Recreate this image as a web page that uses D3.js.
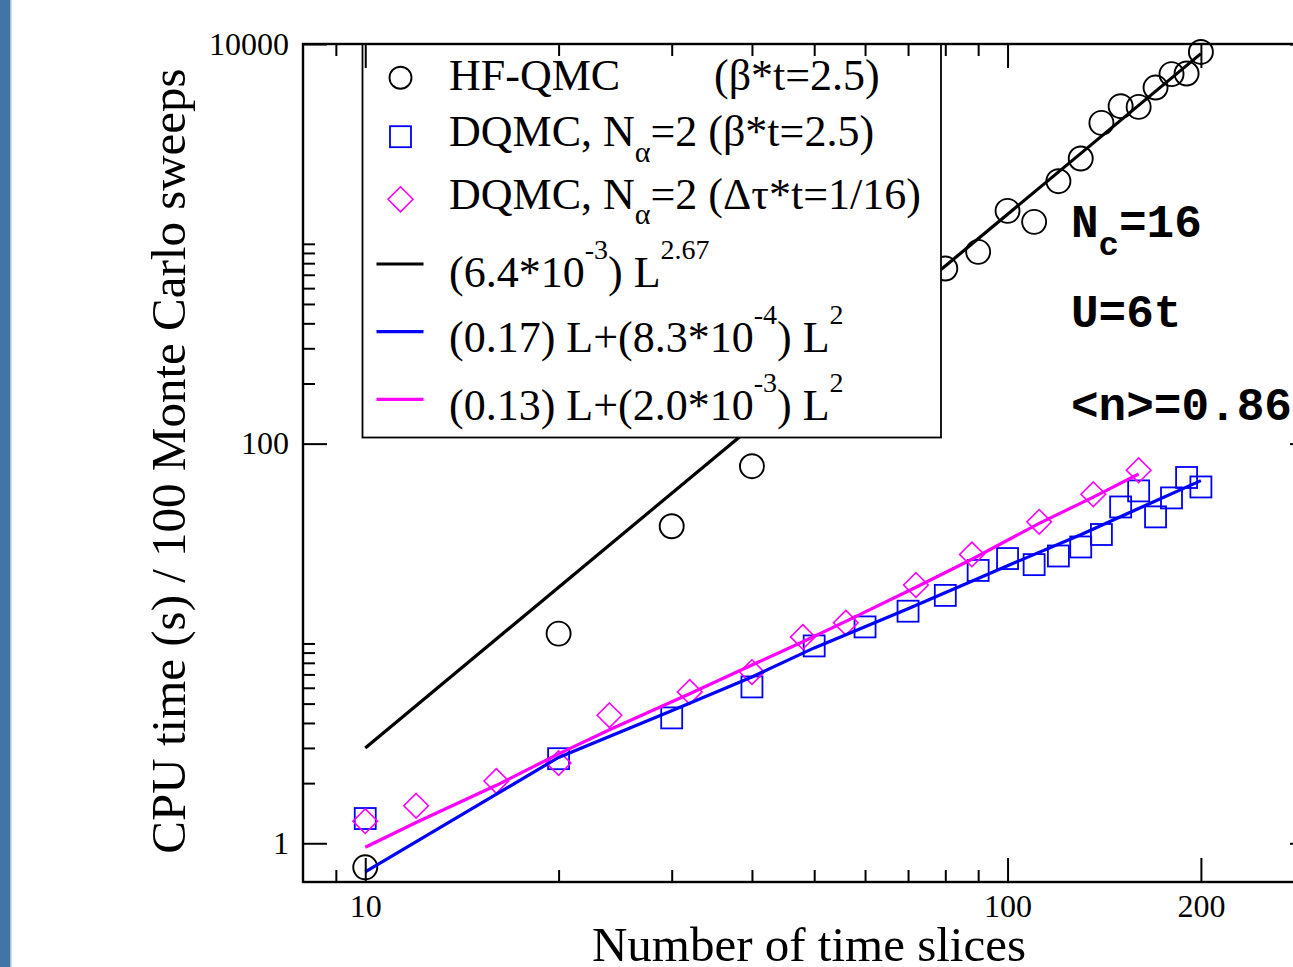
<!DOCTYPE html>
<html><head><meta charset="utf-8">
<script src="https://cdn.jsdelivr.net/npm/d3@7"></script>
<style>body{margin:0;background:#fff;overflow:hidden} svg{display:block} text{white-space:pre}</style>
</head><body>
<svg id="chart" width="1293" height="967"></svg>
<script>
// ---- data ----
const hfL = [10, 20, 30, 40, 80, 90, 100, 110, 120, 130, 140, 150, 160, 170, 180, 190, 200];
const hfTime = [0.758, 11.2, 38.6, 77.1, 752, 911, 1462, 1288, 2058, 2673, 4028, 4884, 4843, 6055, 7063, 7118, 9125];

const dqmcBetaL = [10, 20, 30, 40, 50, 60, 70, 80, 90, 100, 110, 120, 130, 140, 150, 160, 170, 180, 190, 200];
const dqmcBetaTime = [1.33, 2.65, 4.24, 6.06, 9.72, 12.1, 14.5, 17.4, 23.2, 26.6, 24.8, 27.4, 30.4, 35.1, 48.2, 58, 43, 53.5, 67.7, 60.7];

const dqmcTauL = [10, 12, 16, 20, 24, 32, 40, 48, 56, 72, 88, 112, 136, 160];
const dqmcTauTime = [1.29, 1.54, 2.05, 2.52, 4.37, 5.72, 7.19, 10.78, 12.7, 19.6, 27.9, 40.6, 55.8, 73.6];

const fitHfL = [10, 200];
const fitHfTime = [3.0, 8950];
const fitBetaL = [10, 20, 30, 40, 50, 70, 100, 130, 160, 200];
const fitBetaTime = [0.72, 2.69, 4.6, 6.8, 9.5, 14.9, 24.5, 35.0, 47.4, 65.3];
const fitTauL = [10, 12, 16, 20, 24, 32, 40, 48, 56, 72, 88, 112, 136, 160];
const fitTauTime = [0.955, 1.27, 1.95, 2.8, 3.7, 5.6, 7.8, 10.2, 12.9, 19.1, 26.4, 39.9, 54.0, 70.5];

const xMajorTicks = [10, 100, 200];
const xTickLabels = ["10", "100", "200"];
const xMinorTicks = [9, 20, 30, 40, 50, 60, 70, 80, 90];
const yMajorTicks = [1, 100, 10000];
const yTickLabels = ["1", "100", "10000"];
const yMinorTicks = [2, 3, 4, 5, 6, 7, 8, 9, 10, 200, 300, 400, 500, 600, 700, 800, 900, 1000];

const xTitle = "Number of time slices";
const yTitle = "CPU time (s) / 100 Monte Carlo sweeps";

const legendRows = [
  [{t: "HF-QMC"}, {t: "(β*t=2.5)", x: 714}],
  [{t: "DQMC, N"}, {t: "α", k: "sub"}, {t: "=2 (β*t=2.5)"}],
  [{t: "DQMC, N"}, {t: "α", k: "sub"}, {t: "=2 (Δτ*t=1/16)"}],
  [{t: "(6.4*10"}, {t: "-3", k: "sup"}, {t: ") L"}, {t: "2.67", k: "sup"}],
  [{t: "(0.17) L+(8.3*10"}, {t: "-4", k: "sup"}, {t: ") L"}, {t: "2", k: "sup"}],
  [{t: "(0.13) L+(2.0*10"}, {t: "-3", k: "sup"}, {t: ") L"}, {t: "2", k: "sup"}]
];
const notes = [
  [{t: "N"}, {t: "c", k: "sub"}, {t: "=16"}],
  [{t: "U=6t"}],
  [{t: "<n>=0.86"}]
];

// ---- drawing ----
const svg = d3.select("#chart");
const W = 1293, H = 967;
const L = 303, R = 1314, T = 44, B = 882;

svg.append("rect").attr("x", 0).attr("y", 0).attr("width", W).attr("height", H).attr("fill", "#fff");
svg.append("rect").attr("x", 0).attr("y", 0).attr("width", 10).attr("height", H).attr("fill", "#4175a8");
svg.append("rect").attr("x", 10).attr("y", 0).attr("width", 1.5).attr("height", H).attr("fill", "#a9c2dc");

const x = d3.scaleLog().domain([8, 300]).range([L, R]);
const y = d3.scaleLog().domain([0.64, 10000]).range([B, T]);

const serif = "'Liberation Serif', 'Times New Roman', serif";
const mono = "'Liberation Mono', 'Courier New', monospace";

function rich(g, px, py, size, segs, family, weight, subSize, subDy, supSize, supDy) {
  const t = g.append("text").attr("x", px).attr("y", py)
    .style("font-family", family).style("font-size", size + "px")
    .style("font-weight", weight || "normal").attr("fill", "#000");
  let shift = 0;
  segs.forEach(s => {
    const ts = t.append("tspan").text(s.t);
    const target = s.k === "sub" ? subDy : s.k === "sup" ? -supDy : 0;
    if (s.x !== undefined) ts.attr("x", s.x);
    ts.attr("dy", target - shift);
    shift = target;
    if (s.k === "sub") ts.style("font-size", subSize + "px");
    if (s.k === "sup") ts.style("font-size", supSize + "px");
  });
  return t;
}

// data symbols
const zip = (a, b) => a.map((v, i) => [v, b[i]]);
svg.append("g").selectAll("circle").data(zip(hfL, hfTime)).join("circle")
  .attr("cx", d => x(d[0])).attr("cy", d => y(d[1])).attr("r", 12)
  .attr("fill", "none").attr("stroke", "#000").attr("stroke-width", 1.9);
svg.append("g").selectAll("rect").data(zip(dqmcBetaL, dqmcBetaTime)).join("rect")
  .attr("x", d => x(d[0]) - 10.5).attr("y", d => y(d[1]) - 10.5).attr("width", 21).attr("height", 21)
  .attr("fill", "none").attr("stroke", "#0000ff").attr("stroke-width", 1.8);
const dia = r => `M0,${-r}L${r},0L0,${r}L${-r},0Z`;
svg.append("g").selectAll("path").data(zip(dqmcTauL, dqmcTauTime)).join("path")
  .attr("transform", d => `translate(${x(d[0])},${y(d[1])})`).attr("d", dia(12.3))
  .attr("fill", "none").attr("stroke", "#ff00ff").attr("stroke-width", 1.6);

// fit lines
const line = d3.line().x(d => x(d[0])).y(d => y(d[1]));
[[fitHfL, fitHfTime, "#000"], [fitBetaL, fitBetaTime, "#0000ff"], [fitTauL, fitTauTime, "#ff00ff"]]
  .forEach(([a, b, c]) => svg.append("path").datum(zip(a, b)).attr("d", line)
    .attr("fill", "none").attr("stroke", c).attr("stroke-width", 3.2));

// legend
const lg = svg.append("g");
lg.append("rect").attr("x", 362.5).attr("y", 44).attr("width", 578.5).attr("height", 393.5)
  .attr("fill", "#fff").attr("stroke", "#000").attr("stroke-width", 1.8);
const symX = 400.5;
const rowSym = [77.7, 136.7, 199.3, 264, 331.7, 399.3];
const rowBase = [89.5, 146, 208.5, 286.5, 352, 420];
lg.append("circle").attr("cx", symX).attr("cy", rowSym[0]).attr("r", 11)
  .attr("fill", "none").attr("stroke", "#000").attr("stroke-width", 1.9);
lg.append("rect").attr("x", symX - 10.5).attr("y", rowSym[1] - 10.5).attr("width", 21).attr("height", 21)
  .attr("fill", "none").attr("stroke", "#0000ff").attr("stroke-width", 1.8);
lg.append("path").attr("transform", `translate(${symX},${rowSym[2]})`).attr("d", dia(12.5))
  .attr("fill", "none").attr("stroke", "#ff00ff").attr("stroke-width", 1.6);
["#000", "#0000ff", "#ff00ff"].forEach((c, i) =>
  lg.append("line").attr("x1", 376.5).attr("x2", 423.5).attr("y1", rowSym[3 + i]).attr("y2", rowSym[3 + i])
    .attr("stroke", c).attr("stroke-width", 3.2));
legendRows.forEach((segs, i) => rich(lg, 449, rowBase[i], 44, segs, serif, "normal", 30, 15.5, 28, 28));

// annotations
const noteBase = [236.7, 326.7, 420];
notes.forEach((segs, i) => rich(svg, 1071, noteBase[i], 46, segs, mono, "bold", 34, 18, 30, 20));

// axes: frame
svg.append("rect").attr("x", L).attr("y", T).attr("width", R - L).attr("height", B - T)
  .attr("fill", "none").attr("stroke", "#000").attr("stroke-width", 2.4);

function styleAxis(g) {
  g.select(".domain").remove();
  g.selectAll(".tick line").attr("stroke", "#000").attr("stroke-width", 2);
  g.selectAll(".tick text").style("font-family", serif).style("font-size", "32px").attr("fill", "#000");
}
// bottom
svg.append("g").attr("transform", `translate(0,${B})`)
  .call(d3.axisBottom(x).tickValues(xMajorTicks).tickSize(-24).tickSizeOuter(0).tickPadding(12)
    .tickFormat((d, i) => xTickLabels[i])).call(styleAxis);
svg.append("g").attr("transform", `translate(0,${B})`)
  .call(d3.axisBottom(x).tickValues(xMinorTicks).tickSize(-12).tickSizeOuter(0).tickFormat(() => "")).call(styleAxis);
// top
svg.append("g").attr("transform", `translate(0,${T})`)
  .call(d3.axisTop(x).tickValues(xMajorTicks).tickSize(-24).tickSizeOuter(0).tickFormat(() => "")).call(styleAxis);
svg.append("g").attr("transform", `translate(0,${T})`)
  .call(d3.axisTop(x).tickValues(xMinorTicks).tickSize(-12).tickSizeOuter(0).tickFormat(() => "")).call(styleAxis);
// left
svg.append("g").attr("transform", `translate(${L},0)`)
  .call(d3.axisLeft(y).tickValues(yMajorTicks).tickSize(-24).tickSizeOuter(0).tickPadding(14)
    .tickFormat((d, i) => yTickLabels[i])).call(styleAxis);
svg.append("g").attr("transform", `translate(${L},0)`)
  .call(d3.axisLeft(y).tickValues(yMinorTicks).tickSize(-12).tickSizeOuter(0).tickFormat(() => "")).call(styleAxis);
// right
svg.append("g").attr("transform", `translate(${R},0)`)
  .call(d3.axisRight(y).tickValues(yMajorTicks).tickSize(-24).tickSizeOuter(0).tickFormat(() => "")).call(styleAxis);
svg.append("g").attr("transform", `translate(${R},0)`)
  .call(d3.axisRight(y).tickValues(yMinorTicks).tickSize(-12).tickSizeOuter(0).tickFormat(() => "")).call(styleAxis);

// titles
svg.append("text").attr("x", 809).attr("y", 961).attr("text-anchor", "middle")
  .style("font-family", serif).style("font-size", "49px").text(xTitle);
svg.append("text").attr("transform", "translate(185,461) rotate(-90)").attr("text-anchor", "middle")
  .style("font-family", serif).style("font-size", "49px").text(yTitle);
</script>
</body></html>
